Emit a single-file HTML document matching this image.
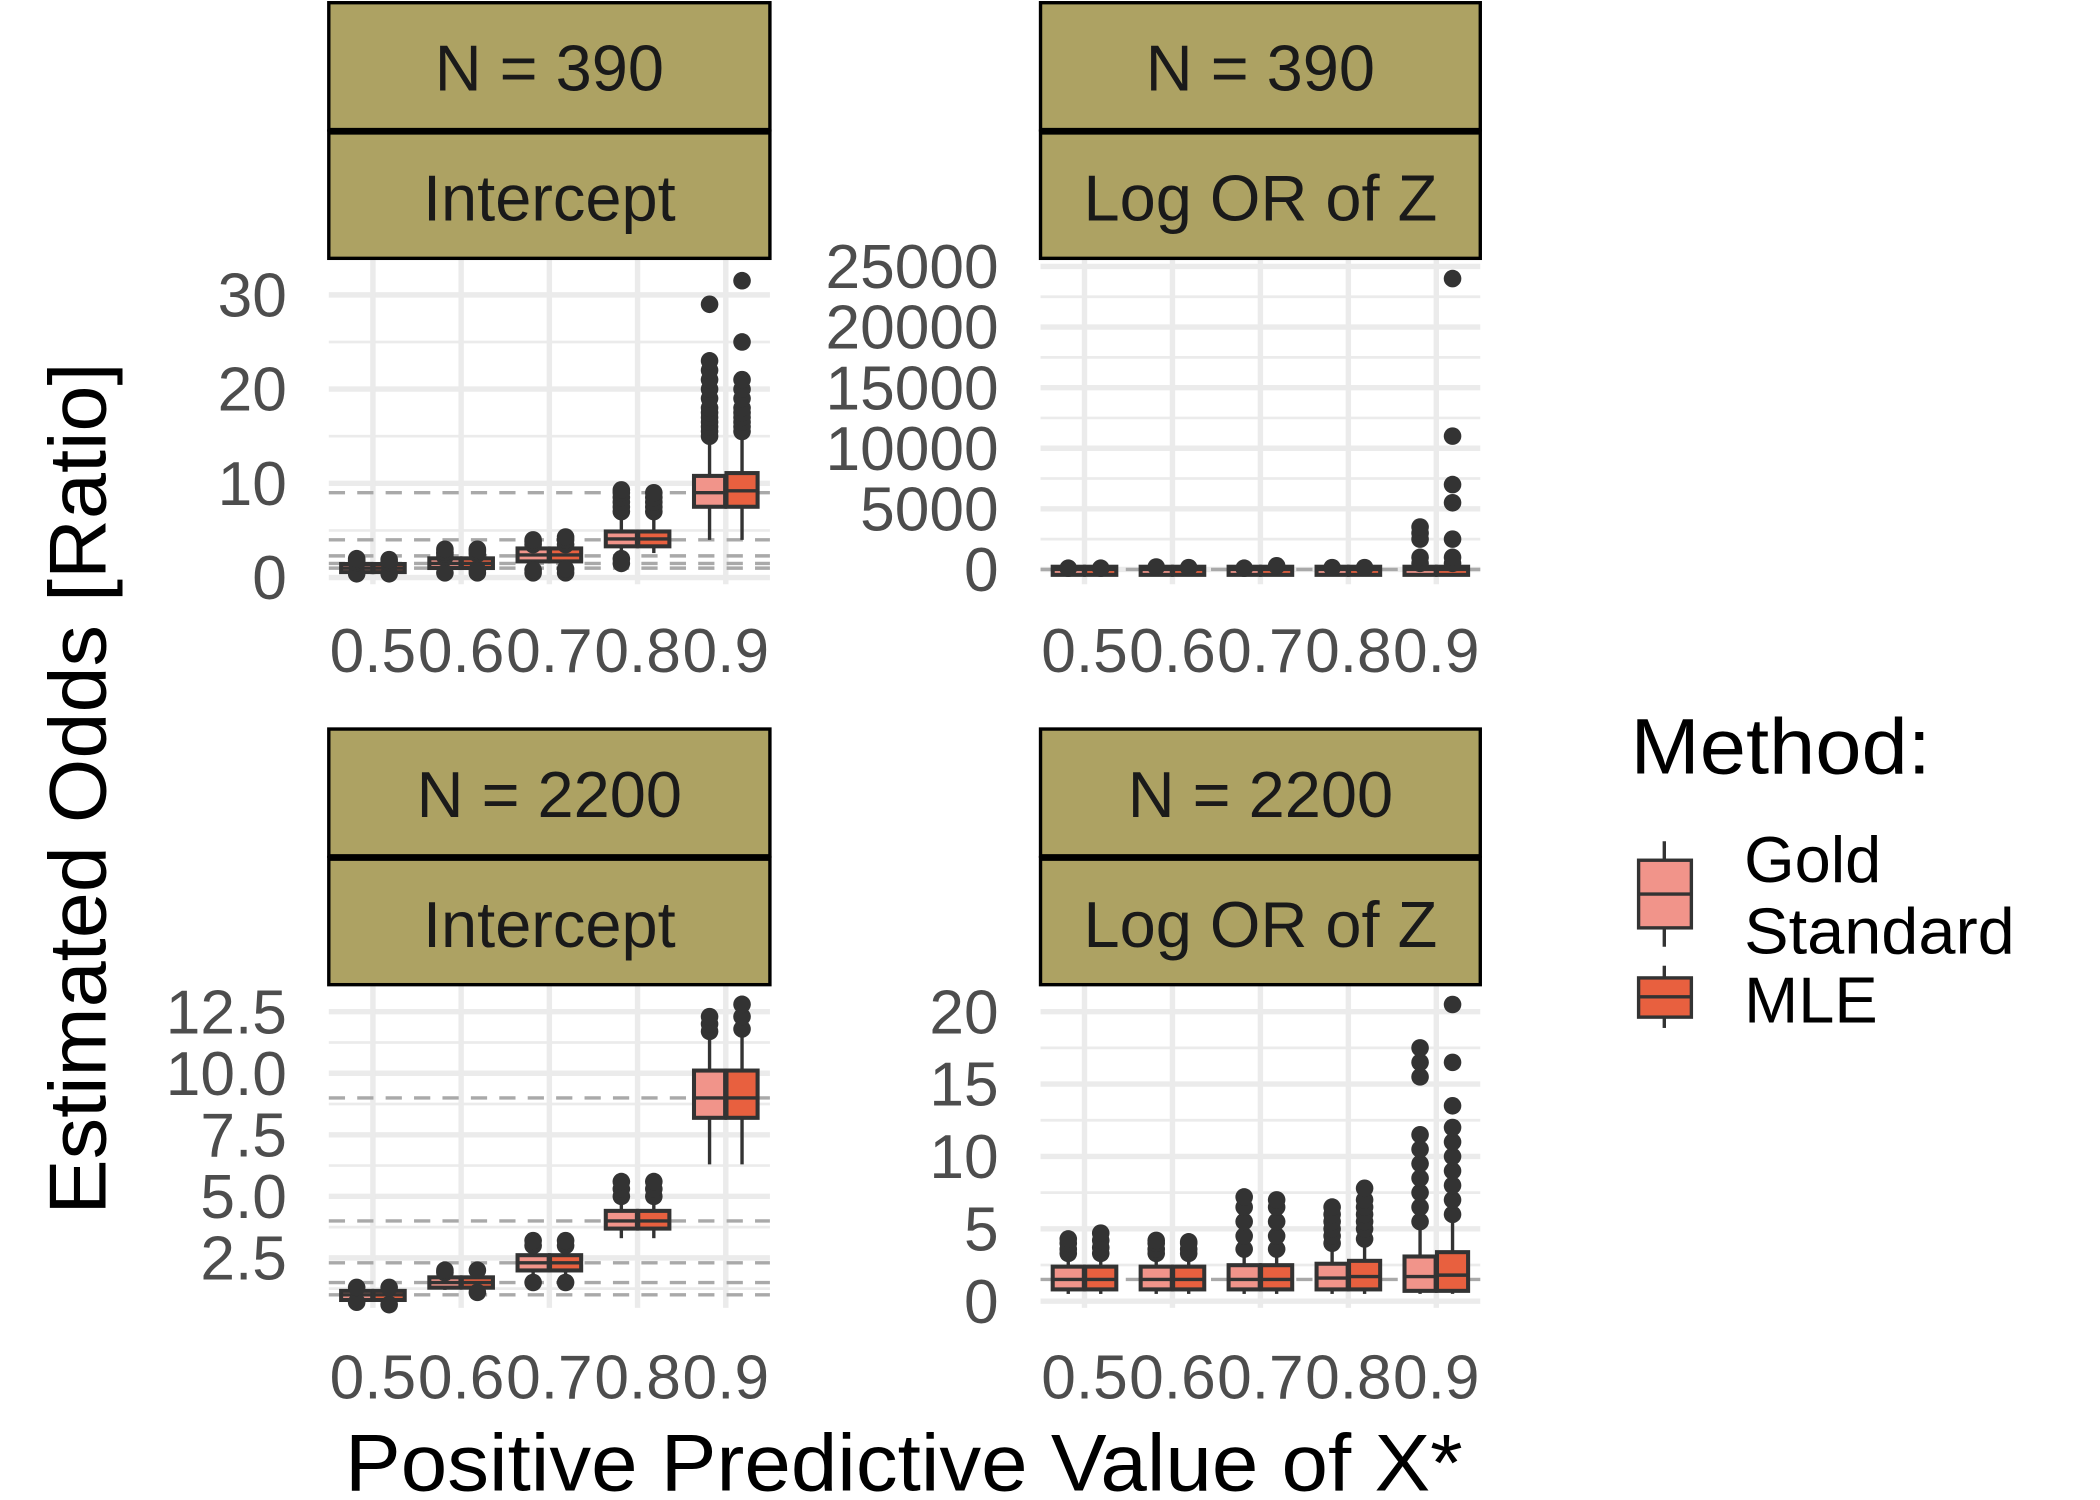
<!DOCTYPE html>
<html><head><meta charset="utf-8"><style>
html,body{margin:0;padding:0;background:#fff;}
svg{display:block;font-family:"Liberation Sans",sans-serif;}
</style></head><body>
<svg id="chart" width="2100" height="1500" viewBox="0 0 1552 1109" preserveAspectRatio="none" xmlns="http://www.w3.org/2000/svg">
<text x="0" y="0" transform="translate(78,583) rotate(-90)" text-anchor="middle" font-size="60" textLength="630" lengthAdjust="spacingAndGlyphs" fill="#000">Estimated Odds [Ratio]</text>
<text x="668" y="1102" text-anchor="middle" font-size="60" textLength="826" lengthAdjust="spacingAndGlyphs" fill="#000">Positive Predictive Value of X*</text>
<g>
<text x="1205" y="572" font-size="58" textLength="222" lengthAdjust="spacingAndGlyphs" fill="#000">Method:</text>
<line x1="1230" y1="622" x2="1230" y2="700" stroke="#333" stroke-width="2.5"/>
<rect x="1211" y="636" width="39" height="50" fill="#F1948A" stroke="#333" stroke-width="2.5"/>
<line x1="1211" y1="661" x2="1250" y2="661" stroke="#333" stroke-width="2.5"/>
<line x1="1230" y1="714" x2="1230" y2="760" stroke="#333" stroke-width="2.5"/>
<rect x="1211" y="723" width="39" height="29" fill="#E8603F" stroke="#333" stroke-width="2.5"/>
<line x1="1211" y1="737" x2="1250" y2="737" stroke="#333" stroke-width="2.5"/>
<text x="1289" y="652" font-size="48" fill="#000">Gold</text>
<text x="1289" y="705" font-size="48" textLength="200" lengthAdjust="spacingAndGlyphs" fill="#000">Standard</text>
<text x="1289" y="756" font-size="48" fill="#000">MLE</text>
</g>
</svg>
<script>
const categories=["0.5","0.6","0.7","0.8","0.9"];
// panel TL: N=390 Intercept  [lowWhisker,q1,median,q3,highWhisker]
const tlGold=[[0.7,0.9,1,1.15,1.5],[1,1.3,1.5,1.75,2.4],[1.4,2,2.4,2.8,3.8],[2.6,3.6,4.1,4.6,6.2],[4,7.8,9,10.5,14.5]];
const tlMle=[[0.7,0.9,1,1.15,1.5],[1,1.3,1.5,1.75,2.4],[1.4,2,2.4,2.8,3.8],[2.6,3.6,4.1,4.6,6.2],[4,7.8,9.2,10.8,15]];
const tlGoldOut=[[0.4,1.6,1.8,2],[0.5,2.2,2.5,2.7,3],[0.5,0.8,3.5,3.8,4],[1.5,2,7,7.5,8,8.5,9,9.3],[15,15.5,16,16.5,17,17.5,18,19,20,21,22,23,29]];
const tlMleOut=[[0.4,1.6,1.9],[0.5,0.8,2.5,2.8,3],[0.5,0.9,3.5,4,4.3],[7,7.5,8,8.5,9],[15.5,16,16.5,17,17.5,18,19,20,21,25,31.5]];
const tlTicks=[0,10,20,30];
const tlRefs=[9,4,2.3,1.5,1];
// panel TR: N=390 Log OR of Z
const trGold=[[0,0,0,0,0],[0,0,0,0,0],[0,0,0,0,0],[0,0,0,0,0],[0,0,0,0,0]];
const trMle=[[0,0,0,0,0],[0,0,0,0,0],[0,0,0,0,0],[0,0,0,0,0],[0,0,0,0,0]];
const trGoldOut=[[100],[200],[100],[150],[500,1000,2500,3000,3500]];
const trMleOut=[[100],[150],[300],[150],[500,1000,2500,5500,7000,11000,24000]];
const trTicks=[0,5000,10000,15000,20000,25000];
const trRefs=[0];
// panel BL: N=2200 Intercept
const blGold=[[0.8,0.9,1,1.05,1.2],[1.2,1.4,1.5,1.6,1.8],[1.8,2.1,2.3,2.5,2.9],[3.3,3.8,4,4.3,4.8],[6.3,8.3,9,10,11.5]];
const blMle=[[0.8,0.9,1,1.05,1.2],[1.2,1.4,1.5,1.6,1.8],[1.8,2.1,2.3,2.5,2.9],[3.3,3.8,4,4.3,4.8],[6.3,8.3,9,10,11.5]];
const blGoldOut=[[0.7,1.3],[1.9,2],[1.5,3,3.2],[5,5.3,5.6],[11.7,12,12.3]];
const blMleOut=[[0.6,1.3],[1.1,2],[1.5,3,3.2],[5,5.3,5.6],[11.8,12.3,12.8]];
const blTicks=[2.5,5,7.5,10,12.5];
const blRefs=[9,4,2.3,1.5,1];
// panel BR: N=2200 Log OR of Z
const brGold=[[0.5,1,1.5,2.2,3],[0.5,1,1.5,2.2,3],[0.5,1,1.5,2.3,3.3],[0.5,1,1.6,2.4,3.7],[0.5,0.9,1.7,2.9,5]];
const brMle=[[0.5,1,1.5,2.2,3],[0.5,1,1.5,2.2,3],[0.5,1,1.5,2.3,3.3],[0.5,1,1.7,2.6,4],[0.5,0.9,1.8,3.2,5.5]];
const brGoldOut=[[3.3,3.6,4,4.3],[3.3,3.6,4,4.2],[3.6,4.5,5.5,6.5,7.2],[4,4.5,5,5.5,6,6.5],[5.5,6.5,7.5,8.5,9.5,10.5,11.5,15.5,16.5,17.5]];
const brMleOut=[[3.3,3.7,4.2,4.7],[3.3,3.6,4,4.1],[3.6,4.5,5.5,6.5,7],[4.3,5,5.5,6,6.5,7,7.8],[6,7,8,9,10,11,12,13.5,16.5,20.5]];
const brTicks=[0,5,10,15,20];
const brRefs=[1.5];

const svg=document.getElementById('chart');
const NS='http://www.w3.org/2000/svg';
function mk(tag,attrs,parent){const e=document.createElementNS(NS,tag);for(const k in attrs)e.setAttribute(k,attrs[k]);(parent||svg).appendChild(e);return e;}

const panels=[
 {id:'tl',x0:243,x1:569,sy:2,pTop:191,pBot:432,n:'N = 390',p:'Intercept',dom:[0,30],py:[427,218],gold:tlGold,mle:tlMle,go:tlGoldOut,mo:tlMleOut,ticks:tlTicks,refs:tlRefs,dec:0,xl:497},
 {id:'tr',x0:769,x1:1094,sy:2,pTop:191,pBot:432,n:'N = 390',p:'Log OR of Z',dom:[0,25000],py:[421,197],gold:trGold,mle:trMle,go:trGoldOut,mo:trMleOut,ticks:trTicks,refs:trRefs,dec:0,xl:497},
 {id:'bl',x0:243,x1:569,sy:539,pTop:729,pBot:967,n:'N = 2200',p:'Intercept',dom:[2.5,12.5],py:[930,748],gold:blGold,mle:blMle,go:blGoldOut,mo:blMleOut,ticks:blTicks,refs:blRefs,dec:1,xl:1034},
 {id:'br',x0:769,x1:1094,sy:539,pTop:729,pBot:967,n:'N = 2200',p:'Log OR of Z',dom:[0,20],py:[962,748],gold:brGold,mle:brMle,go:brGoldOut,mo:brMleOut,ticks:brTicks,refs:brRefs,dec:0,xl:1034}
];

panels.forEach(P=>{
 const g=mk('g',{});
 
 
 const y=v=>P.py[0]+(v-P.dom[0])*(P.py[1]-P.py[0])/(P.dom[1]-P.dom[0]);
 const step=(P.x1-P.x0)/categories.length;
 const xc=i=>P.x0+step*(i+0.5);
 const tstep=P.ticks[1]-P.ticks[0];
 for(let i=0;i<P.ticks.length;i++){
  const mv=P.ticks[i]+tstep/2;const my=y(mv);
  if(my>P.pTop&&my<P.pBot)mk('line',{x1:P.x0,x2:P.x1,y1:my,y2:my,stroke:'#EBEBEB','stroke-width':2},g);
  const mv2=P.ticks[i]-tstep/2;const my2=y(mv2);
  if(i==0&&my2>P.pTop&&my2<P.pBot)mk('line',{x1:P.x0,x2:P.x1,y1:my2,y2:my2,stroke:'#EBEBEB','stroke-width':2},g);
 }
 P.ticks.forEach(t=>{
  const gl=mk('line',{x1:P.x0,x2:P.x1,y1:y(t),y2:y(t),stroke:'#EBEBEB','stroke-width':4},g);
  
  
  const tx=mk('text',{x:P.x0-31,y:y(t)+16,'text-anchor':'end','font-size':46,fill:'#4D4D4D'},g);
  tx.textContent=P.dec?t.toFixed(1):String(t);
  
  
 });
 categories.forEach((c,i)=>{
  mk('line',{x1:xc(i),x2:xc(i),y1:P.pTop,y2:P.pBot,stroke:'#EBEBEB','stroke-width':4},g);
  const tx=mk('text',{x:xc(i),y:P.xl,'text-anchor':'middle','font-size':46,fill:'#4D4D4D'},g);
  tx.textContent=c;
  
  
 });
 P.refs.forEach(r=>{
  const rl=mk('line',{x1:P.x0,x2:P.x1,y1:y(r),y2:y(r),stroke:'#A9A9A9','stroke-width':2.5,'stroke-dasharray':'12,9'},g);
  
  
 });
 [[P.gold,P.go,'#F1948A',-12,'gold'],[P.mle,P.mo,'#E8603F',12,'mle']].forEach(([st,out,col,off,nm])=>{
  categories.forEach((c,i)=>{
   const s=st[i];const cx=xc(i)+off;const w=23;
   const bg=mk('g',{},g);
   
   
   mk('line',{x1:cx,x2:cx,y1:y(s[0]),y2:y(s[4]),stroke:'#333','stroke-width':2.5},bg);
   const top=y(s[3]),bot=y(s[1]);
   mk('rect',{x:cx-w/2,y:top-2,width:w,height:Math.max(bot-top+4,6),fill:col,stroke:'#333','stroke-width':3},bg);
   mk('line',{x1:cx-w/2,x2:cx+w/2,y1:y(s[2]),y2:y(s[2]),stroke:'#333','stroke-width':2.5},bg);
   out[i].forEach(v=>{
    const pt=mk('circle',{cx:cx,cy:y(v),r:6.5,fill:'#333'},bg);
    
    
   });
  });
 });
 const s1=mk('rect',{x:P.x0,y:P.sy,width:P.x1-P.x0,height:94,fill:'#ADA263',stroke:'#000','stroke-width':2.5},g);
 
 
 const s2=mk('rect',{x:P.x0,y:P.sy+95,width:P.x1-P.x0,height:94,fill:'#ADA263',stroke:'#000','stroke-width':2.5},g);
 
 
 mk('line',{x1:P.x0,x2:P.x1,y1:P.sy+95,y2:P.sy+95,stroke:'#000','stroke-width':5},g);
 const t1=mk('text',{x:(P.x0+P.x1)/2,y:P.sy+65,'text-anchor':'middle','font-size':48,fill:'#1A1A1A'},g);
 t1.textContent=P.n;
 
 
 const t2=mk('text',{x:(P.x0+P.x1)/2,y:P.sy+161,'text-anchor':'middle','font-size':48,fill:'#1A1A1A'},g);
 t2.textContent=P.p;
 
 
});
</script>
</body></html>
